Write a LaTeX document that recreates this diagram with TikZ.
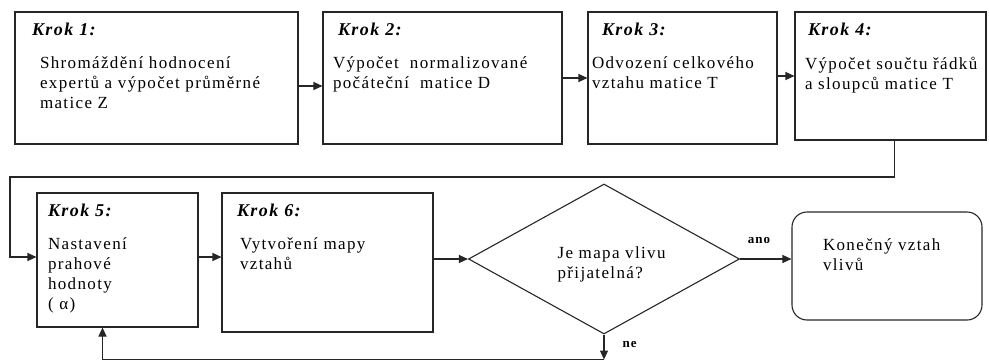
\documentclass[tikz,border=0pt]{standalone}
\usepackage{fontspec}
\setmainfont{Liberation Serif}[LetterSpace=8]
\usetikzlibrary{shapes.geometric,arrows.meta}

\begin{document}
\begin{tikzpicture}[x=1pt, y=-1pt, line width=1.1pt,
        box/.style={draw=black!85, rectangle, inner sep=0pt},
        krok/.style={anchor=base west, inner sep=0pt, font=\fontsize{18}{20}\selectfont\bfseries\itshape},
        txt/.style={anchor=north west, inner sep=0pt, align=left, font=\fontsize{17}{20}\selectfont, execute at begin node=\strut},
        arr/.style={draw=black!85, -{Triangle[length=9pt,width=8pt]}},
        yesno/.style={inner sep=0pt, font=\fontsize{13}{14}\selectfont\bfseries}]
    \useasboundingbox (0,0) rectangle (989,362);
    % kroky
    \node[box, minimum width=283pt, minimum height=132pt] (b1) at (156.5,78) {};
    \node[box, minimum width=239pt, minimum height=132pt] (b2) at (442.5,78) {};
    \node[box, minimum width=189pt, minimum height=132pt] (b3) at (682.5,78) {};
    \node[box, minimum width=191pt, minimum height=128pt] (b4) at (890.5,76) {};
    \node[box, minimum width=161pt, minimum height=134pt] (b5) at (117.5,260) {};
    \node[box, minimum width=211pt, minimum height=139pt] (b6) at (327.5,262.5) {};
    \node[draw=black!85, diamond, minimum width=271pt, minimum height=150pt, inner sep=0pt] (dia) at (604,259) {};
    \node[box, rounded corners=15pt, minimum width=190pt, minimum height=108pt] (fin) at (887,266) {};
    \foreach \n/\kx/\tx/\t in {1/17/25/{Shromáždění hodnocení\\expertů a výpočet průměrné\\matice Z},
            2/15/10/{Výpočet~ normalizované\\počáteční~ matice D},
            3/14/4/{Odvození celkového\\vztahu matice T},
            4/13/10/{Výpočet součtu řádků\\a sloupců matice T},
            5/11/11/{Nastavení\\prahové\\hodnoty\\( α)},
            6/15/18/{Vytvoření mapy\\vztahů}} {
        \node[krok] (k\n) at ([shift={(\kx,24)}]b\n.north west) {Krok \n:};
        \node[txt] (t\n) at ([shift={(\tx,45)}]b\n.north west) {\t};
    }
    \node[txt] (tq) at ([shift={(-47,-13)}]dia.center) {Je mapa vlivu\\přijatelná?};
    \node[txt] (tf) at ([shift={(31,27)}]fin.north west) {Konečný vztah\\vlivů};
    % spojnice
    \draw[arr] ([yshift=-8pt]b1.east) -- ([yshift=-8pt]b1.east -| b2.west);
    \draw[arr] (b2.east) -- (b2.east -| b3.west);
    \draw[arr] ([yshift=2pt]b3.east) -- ([yshift=2pt]b3.east -| b4.west);
    \coordinate (ret) at (10,177);
    \draw[arr] ([xshift=4pt]b4.south) |- (ret) |- ([yshift=3pt]b5.west);
    \draw[arr] ([yshift=3pt]b5.east) -- ([yshift=3pt]b5.east -| b6.west);
    \draw[arr] (b6.east |- dia.west) -- (dia.west);
    \draw[arr] (dia.east) -- (dia.east -| fin.west) node[yesno, pos=0.37, above=15pt] (ano) {ano};
    \coordinate (dn) at ([yshift=-25pt]dia.south);
    \draw[arr] (dia.south) -- (dn) node[yesno, pos=0.4, right=18pt] (ne) {ne};
    \draw[arr] (dn) -| ([xshift=-15pt]b5.south);
\end{tikzpicture}
\end{document}
